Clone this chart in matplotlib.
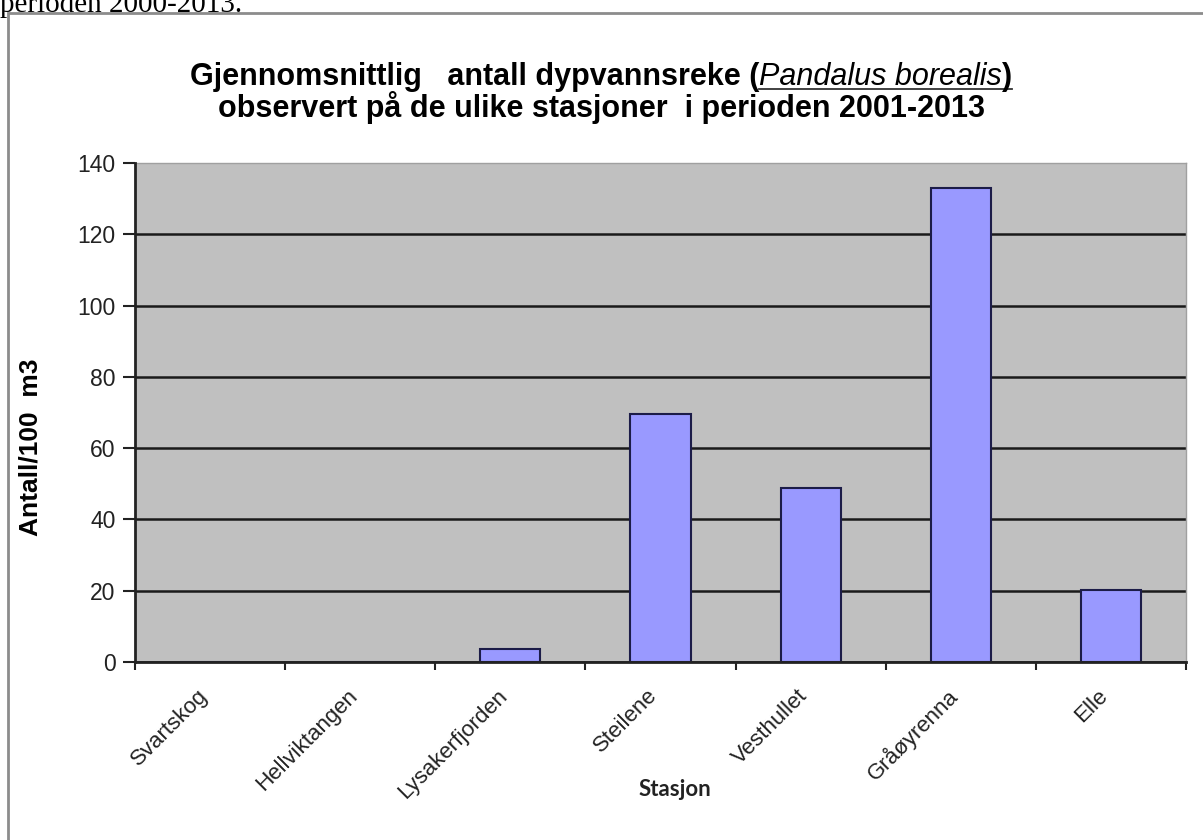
import matplotlib
matplotlib.use('agg')
import matplotlib.pyplot as plt
import matplotlib.transforms as mtransforms
from matplotlib.patches import Rectangle
from matplotlib.lines import Line2D
import numpy as np

# Data
stations = ['Svartskog', 'Hellviktangen', 'Lysakerfjorden', 'Steilene',
            'Vesthullet', 'Gråøyrenna', 'Elle']
values = [0, 0, 3.7, 69.5, 48.8, 133.0, 20.2]
y_ticks = [0, 20, 40, 60, 80, 100, 120, 140]

W, H = 1203, 840
fig = plt.figure(figsize=(W / 100, H / 100), dpi=100)
font = 'Liberation Sans'

# cut-off text line from the surrounding document
fig.text(0, 1 - 12 / H, 'perioden 2000-2013.', family='Liberation Serif',
         fontsize=21, va='baseline', ha='left')

# chart frame
fig.patches.append(Rectangle((8 / W, -0.05), 1.1, 1 - 13 / H + 0.05,
                             transform=fig.transFigure, fill=False,
                             edgecolor='#8c8c8c', linewidth=2))

ax = fig.add_axes([135 / W, 1 - 662 / H, (1186 - 135) / W, (662 - 163) / H])
ax.set_facecolor('#c0c0c0')

x = np.arange(len(stations))
ax.bar(x, values, width=0.4, color='#9999ff', edgecolor='#1c1c48',
       linewidth=1.5, zorder=3)

ax.set_xlim(-0.5, len(stations) - 0.5)
ax.set_ylim(0, 140)
ax.set_yticks(y_ticks)
ax.set_yticklabels([str(v) for v in y_ticks], family=font, fontsize=16.5,
                   color='#222222')
ax.tick_params(axis='y', direction='out', length=9, width=1.5, pad=5,
               color='#222222')

# x ticks at category boundaries, labels at centres
ax.set_xticks(np.arange(-0.5, len(stations), 1.0))
ax.set_xticklabels([])
ax.tick_params(axis='x', which='major', direction='out', length=6, width=1.5,
               color='#222222')
ax.set_xticks(x, minor=True)
ax.set_xticklabels(stations, minor=True, rotation=45, ha='right', va='center',
                   rotation_mode='anchor', family=font, fontsize=16,
                   color='#222222')
ax.tick_params(axis='x', which='minor', length=0, pad=22)
offset = mtransforms.ScaledTranslation(-6 / 100, 0, fig.dpi_scale_trans)
for lab in ax.get_xticklabels(minor=True):
    lab.set_transform(lab.get_transform() + offset)

ax.yaxis.grid(True, color='#1a1a1a', linewidth=1.8, zorder=1)
ax.set_axisbelow(True)
ax.yaxis.get_gridlines()[-1].set_visible(False)

for side in ['top', 'right']:
    ax.spines[side].set_color('#a0a0a0')
    ax.spines[side].set_linewidth(1)
for side in ['left', 'bottom']:
    ax.spines[side].set_color('#222222')
    ax.spines[side].set_linewidth(2)
    ax.spines[side].set_zorder(4)

# axis titles
fig.text(31 / W, 1 - 447 / H, 'Antall/100  m3', rotation=90, family=font,
         fontweight='bold', fontsize=19, ha='center', va='center')
fig.text(675 / W, 1 - 790 / H, 'Stasjon', family='Lato', fontweight='bold',
         fontsize=16, ha='center', va='center', color='#222222')

# chart title with italic, underlined species name
renderer = fig.canvas.get_renderer()
title_size = 22
pieces = [('Gjennomsnittlig   antall dypvannsreke (', 'bold', 'normal', False),
          ('Pandalus borealis', 'normal', 'italic', True),
          (')', 'bold', 'normal', True)]
texts = []
for s, weight, style, _ in pieces:
    t = fig.text(0, 1 - 85 / H, s, family=font, fontweight=weight,
                 fontstyle=style, fontsize=title_size, va='baseline', ha='left')
    texts.append(t)
widths = [t.get_window_extent(renderer).width for t in texts]
x0 = 601 - sum(widths) / 2
ul_start = None
for t, w, p in zip(texts, widths, pieces):
    t.set_x(x0 / W)
    if p[3]:
        if ul_start is None:
            ul_start = x0
        ul_end = x0 + w
    x0 += w
fig.lines.append(Line2D([ul_start / W, ul_end / W], [1 - 89 / H, 1 - 89 / H],
                        transform=fig.transFigure, color='#333333',
                        linewidth=1.3))
fig.text(601 / W, 1 - 117 / H, 'observert på de ulike stasjoner  i perioden 2001-2013',
         family=font, fontweight='bold', fontsize=title_size, ha='center',
         va='baseline')

fig.savefig('out.png', dpi=100)
